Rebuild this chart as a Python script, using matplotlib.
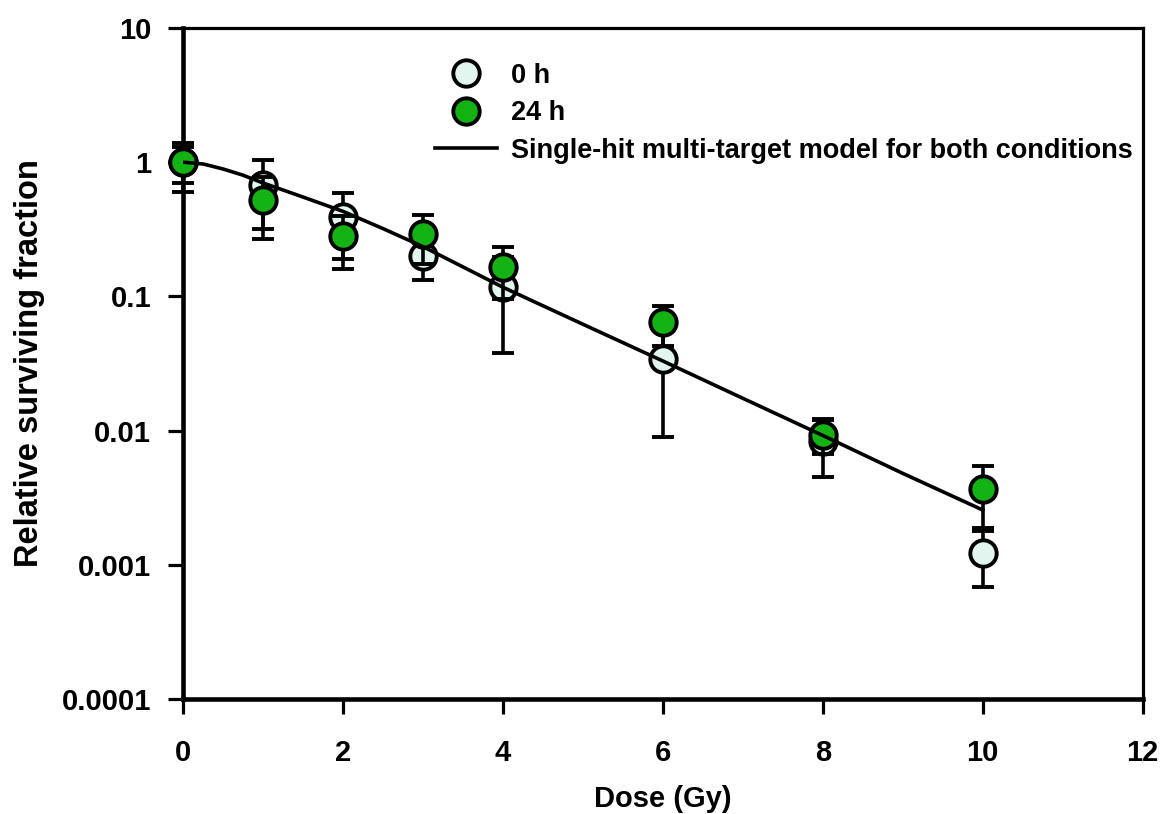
import matplotlib
matplotlib.use('Agg')
import matplotlib.pyplot as plt
from matplotlib.lines import Line2D

# survival data
dose = [0, 1, 2, 3, 4, 6, 8, 10]
sf_0h = [1.0, 0.68, 0.39, 0.20, 0.118, 0.034, 0.0083, 0.00123]
err_0h = [0.40, 0.36, 0.20, 0.067, 0.080, 0.025, 0.0038, 0.00055]
sf_24h = [1.0, 0.52, 0.28, 0.29, 0.165, 0.064, 0.0093, 0.00367]
err_24h = [0.30, 0.25, 0.12, 0.115, 0.070, 0.021, 0.0026, 0.00178]

# fitted model curve
model_dose = [0, 0.25, 0.5, 0.75, 1, 1.5, 2, 2.5, 3, 4, 5, 6, 7, 8, 9, 10]
model_sf = [1.0, 0.97, 0.89, 0.80, 0.70, 0.55, 0.43, 0.32, 0.235, 0.117,
            0.062, 0.033, 0.0174, 0.0092, 0.0048, 0.00256]

plt.rcParams['font.family'] = ['Liberation Sans', 'DejaVu Sans']
plt.rcParams['font.weight'] = 'bold'

fig = plt.figure(figsize=(11.66, 8.14), dpi=100)
ax = fig.add_axes([0.157, 0.1413, 0.823, 0.8243])

light = '#e2f5ef'
green = '#12b312'
ms = 19
mew = 2.8

ax.errorbar(dose, sf_0h, yerr=err_0h, fmt='o', ms=ms, mfc=light, mec='black',
            mew=mew, ecolor='black', elinewidth=2.6, capsize=8, capthick=2.6,
            clip_on=False, zorder=3)
ax.errorbar(dose, sf_24h, yerr=err_24h, fmt='o', ms=ms, mfc=green, mec='black',
            mew=mew, ecolor='black', elinewidth=2.6, capsize=8, capthick=2.6,
            clip_on=False, zorder=4)
line, = ax.plot(model_dose, model_sf, color='black', lw=2.6, zorder=5)

ax.set_yscale('log')
ax.set_xlim(0, 12)
ax.set_ylim(1e-4, 10)
ax.set_xticks(range(0, 13, 2))
ax.set_yticks([1e-4, 1e-3, 1e-2, 1e-1, 1, 10])
ax.set_yticklabels(['0.0001', '0.001', '0.01', '0.1', '1', '10'])
ax.minorticks_off()
ax.tick_params(axis='both', direction='out', length=11, width=2.3,
               labelsize=21)
ax.tick_params(axis='y', pad=12)
ax.tick_params(axis='x', pad=18)
for t in ax.get_xticklabels() + ax.get_yticklabels():
    t.set_fontweight('bold')

for s in ['left', 'bottom']:
    ax.spines[s].set_linewidth(3.3)
for s in ['top', 'right']:
    ax.spines[s].set_linewidth(2.3)

ax.set_xlabel('Dose (Gy)', fontsize=21, fontweight='bold', labelpad=13)
ax.set_ylabel('Relative surviving fraction', fontsize=23.5, fontweight='bold',
              labelpad=12)

mk0 = Line2D([], [], ls='none', marker='o', ms=ms, mfc=light, mec='black', mew=mew)
mk24 = Line2D([], [], ls='none', marker='o', ms=ms, mfc=green, mec='black', mew=mew)
ax.legend([mk0, mk24, line],
          ['0 h', '24 h', 'Single-hit multi-target model for both conditions'],
          loc='upper left', bbox_to_anchor=(0.2625, 0.948), frameon=False,
          fontsize=19.5, handlelength=2.3, handletextpad=0.5, labelspacing=0.42,
          borderpad=0, borderaxespad=0)

fig.savefig('out.png', dpi=100)
